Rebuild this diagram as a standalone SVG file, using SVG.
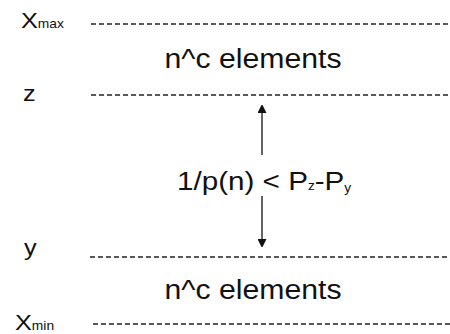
<svg xmlns="http://www.w3.org/2000/svg" width="450" height="334" viewBox="0 0 450 334">
<style>
text{font-family:"Liberation Sans",Arial,sans-serif;fill:#111}
.big{font-size:27px}
.mid{font-size:26px}
.lbl{font-size:22px}
.sub{font-size:12px}
.dash{stroke:#222;stroke-width:1.6;stroke-dasharray:5 3;fill:none}
.arr{stroke:#111;stroke-width:1.3;fill:none}
</style>
<defs>
<marker id="ah" markerWidth="8" markerHeight="9" refX="7" refY="4.5" orient="auto" markerUnits="userSpaceOnUse">
<path d="M0,0 L9,4.5 L0,9 z" fill="#111"/>
</marker>
</defs>
<rect width="450" height="334" fill="#fff"/>
<g id="xmax"><text transform="translate(21,28) scale(1.15,1)" class="lbl">X<tspan class="sub">max</tspan></text></g>
<g id="zlabel"><text transform="translate(23,101) scale(1.15,1)" class="lbl">z</text></g>
<g id="ylabel"><text transform="translate(24,255) scale(1.15,1)" class="lbl">y</text></g>
<g id="xmin"><text transform="translate(15,330) scale(1.15,1)" class="lbl">X<tspan class="sub">min</tspan></text></g>
<g id="top-elements"><text transform="translate(253,68) scale(1.12,1)" class="big" text-anchor="middle">n^c elements</text></g>
<g id="bottom-elements"><text transform="translate(253,299) scale(1.12,1)" class="big" text-anchor="middle">n^c elements</text></g>
<g id="gap-label"><text transform="translate(177,190) scale(1.14,1)" class="mid">1/p(n) &lt; P<tspan class="sub">z</tspan>-P<tspan class="sub" dy="2">y</tspan></text></g>
<g id="connectors">
<line class="dash" x1="91" y1="24" x2="450" y2="24"/>
<line class="dash" x1="91" y1="95" x2="450" y2="95"/>
<line class="dash" x1="90" y1="257" x2="450" y2="257"/>
<line class="dash" x1="93" y1="324" x2="450" y2="324"/>
<line class="arr" x1="262" y1="155" x2="262" y2="106" marker-end="url(#ah)"/>
<line class="arr" x1="262" y1="196" x2="262" y2="246" marker-end="url(#ah)"/>
</g>
</svg>
